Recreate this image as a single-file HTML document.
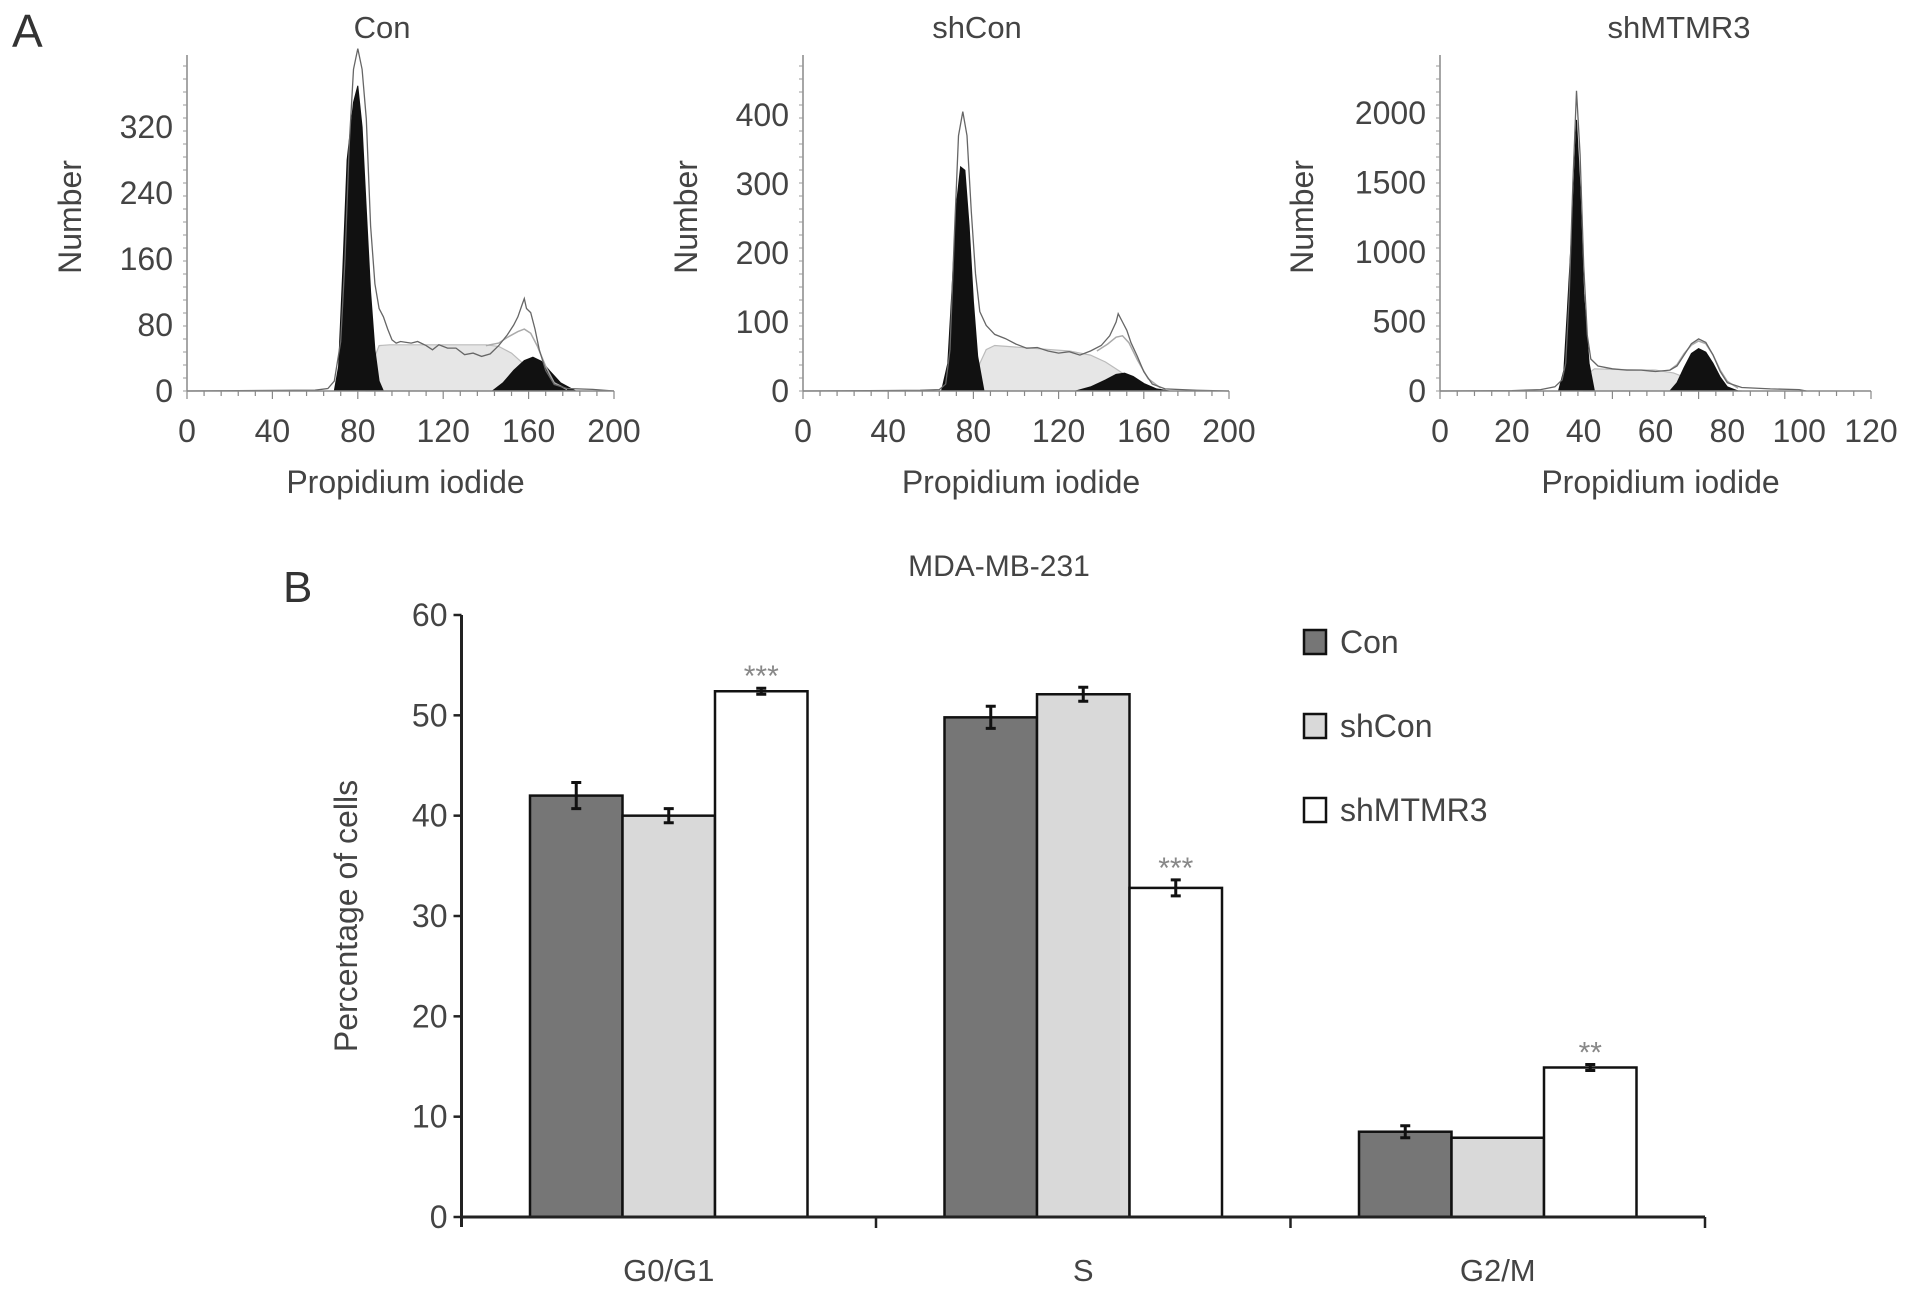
<!DOCTYPE html>
<html><head><meta charset="utf-8">
<style>
html,body{margin:0;padding:0;background:#fff;}
svg{display:block;font-family:"Liberation Sans",Arial,sans-serif;}
</style></head>
<body>
<svg id="fig" width="1913" height="1294" viewBox="0 0 1913 1294" xmlns="http://www.w3.org/2000/svg">
<text x="12" y="47" font-size="46" fill="#333">A</text>
<text x="283" y="602" font-size="44" fill="#333">B</text>
<g id="hist"></g>
<g id="bars"></g>
</svg>
<script>
// ---------- Histogram data (panel A) ----------
const h1Outline = [[0,0],[60,1],[66,3],[69,12],[72,60],[74,160],[76,300],[78,390],[80,415],[82,390],[84,330],[86,200],[88,130],[90,100],[92,90],[94,75],[96,62],[98,58],[100,60],[105,58],[108,60],[112,55],[115,50],[118,56],[122,52],[126,52],[130,44],[134,46],[138,42],[142,45],[146,55],[150,68],[153,80],[155,90],[157,105],[158,112],[159,100],[161,95],[163,75],[165,50],[168,25],[172,8],[178,3],[190,2],[200,0]];
const h1Fit = [[140,55],[146,58],[150,65],[155,72],[158,75],[161,70],[164,55],[168,30],[172,10],[178,2]];
const h1G1 = [[69,0],[71,30],[73,150],[75,280],[78,350],[80,370],[82,320],[84,220],[86,120],[88,50],[90,12],[92,0]];
const h1S = [[84,0],[87,35],[90,55],[95,56],[140,56],[146,54],[152,46],[158,32],[164,17],[170,6],[176,0]];
const h1G2 = [[143,0],[148,10],[153,25],[158,37],[162,41],[166,36],[170,24],[175,10],[182,0]];

const h2Outline = [[0,0],[55,1],[64,2],[67,10],[69,60],[71,220],[73,370],[75,405],[77,370],[79,260],[81,170],[83,115],[86,95],[90,82],[95,76],[100,68],[105,62],[110,63],[115,58],[120,55],[125,57],[130,52],[135,58],[140,66],[144,80],[147,100],[148,112],[150,100],[152,88],[154,70],[157,50],[160,28],[164,10],[170,3],[185,1],[200,0]];
const h2Fit = [[138,58],[143,68],[147,78],[150,80],[153,70],[157,45],[162,18],[168,4]];
const h2G1 = [[65,0],[68,40],[70,150],[72,270],[74,325],[76,320],[78,240],[80,130],[82,50],[85,0]];
const h2S = [[80,0],[83,40],[86,60],[90,66],[125,58],[135,52],[142,42],[148,30],[155,15],[162,5],[168,0]];
const h2G2 = [[128,0],[135,6],[142,16],[147,24],[151,26],[155,21],[160,11],[166,3],[172,0]];

const h3Outline = [[0,0],[20,3],[28,10],[32,30],[34,80],[35,200],[36,700],[37,1500],[38,2160],[39,1700],[40,900],[41,400],[42,230],[44,180],[48,160],[52,150],[56,150],[60,140],[64,150],[66,180],[68,260],[70,340],[72,375],[74,350],[76,260],[78,140],[80,60],[84,25],[92,15],[100,10],[102,0]];
const h3Fit = [[64,150],[66,190],[68,270],[70,330],[72,360],[74,340],[76,260],[78,150],[80,70],[83,20]];
const h3G1 = [[33,0],[34.5,150],[35.5,600],[37,1300],[38,1950],[39,1450],[40,700],[41.5,200],[43,0]];
const h3S = [[40,0],[41,120],[43,160],[50,155],[60,150],[65,130],[69,90],[73,50],[77,20],[81,5],[84,0]];
const h3G2 = [[64,0],[66,60],[68,170],[70,270],[72,305],[74,280],[76,200],[78,100],[80,30],[83,0]];

const h1XTicks = [0,40,80,120,160,200];
const h1YTicks = [0,80,160,240,320];
const h2XTicks = [0,40,80,120,160,200];
const h2YTicks = [0,100,200,300,400];
const h3XTicks = [0,20,40,60,80,100,120];
const h3YTicks = [0,500,1000,1500,2000];
const histTitles = ["Con","shCon","shMTMR3"];

// ---------- Bar chart data (panel B) ----------
const phases = ["G0/G1","S","G2/M"];
const seriesNames = ["Con","shCon","shMTMR3"];
const conVals = [42.0,49.8,8.5];
const shConVals = [40.0,52.1,7.9];
const shMTMR3Vals = [52.4,32.8,14.9];
const conErr = [1.3,1.1,0.6];
const shConErr = [0.7,0.7,0.0];
const shMTMR3Err = [0.3,0.8,0.3];
const sigMarks = ["***","***","**"];
const barYTicks = [0,10,20,30,40,50,60];

const NS = "http://www.w3.org/2000/svg";
function mk(tag, attrs, parent, txt){
  const e = document.createElementNS(NS, tag);
  for (const k in attrs) e.setAttribute(k, attrs[k]);
  if (txt !== undefined) e.textContent = txt;
  parent.appendChild(e);
  return e;
}

function drawHist(g, cfg, outline, fit, g1, s, g2, xt, yt, title){
  const sx = v => cfg.x0 + (v - cfg.xmin) / (cfg.xmax - cfg.xmin) * (cfg.x1 - cfg.x0);
  const sy = v => cfg.y0 - v / cfg.ymax * (cfg.y0 - cfg.yTop);
  const pts = arr => arr.map(p => sx(p[0]).toFixed(1) + "," + sy(p[1]).toFixed(1)).join(" ");
  let e;
  e = mk("polygon", {points: pts(s), fill: "#e6e6e6", stroke: "#bbb", "stroke-width": 1.2}, g);
  
  
  e = mk("polygon", {points: pts(g1), fill: "#111", stroke: "#111", "stroke-width": 1}, g);
  
  
  e = mk("polygon", {points: pts(g2), fill: "#111", stroke: "#111", "stroke-width": 1}, g);
  
  
  e = mk("polyline", {points: pts(fit), fill: "none", stroke: "#aaa", "stroke-width": 1.5}, g);
  
  
  e = mk("polyline", {points: pts(outline), fill: "none", stroke: "#666", "stroke-width": 1.3}, g);
  
  
  e = mk("line", {x1: cfg.x0, y1: cfg.y0, x2: cfg.x1, y2: cfg.y0, stroke: "#888", "stroke-width": 1.5}, g);
  
  
  e = mk("line", {x1: cfg.x0, y1: cfg.y0, x2: cfg.x0, y2: cfg.axTop, stroke: "#888", "stroke-width": 1.5}, g);
  
  
  const nx = 25;
  for (let i = 0; i <= nx; i++){
    const x = cfg.x0 + i * (cfg.x1 - cfg.x0) / nx;
    mk("line", {x1: x, y1: cfg.y0, x2: x, y2: cfg.y0 + (i % 5 === 0 ? 8 : 5), stroke: "#888", "stroke-width": 1.2}, g);
  }
  for (let y = cfg.y0; y >= cfg.axTop; y -= 13){
    mk("line", {x1: cfg.x0 - 4, y1: y, x2: cfg.x0, y2: y, stroke: "#999", "stroke-width": 1}, g);
  }
  xt.forEach(v => {
    e = mk("text", {x: sx(v), y: cfg.y0 + 51, "font-size": 32, fill: "#444", "text-anchor": "middle"}, g, String(v));
    
    
  });
  yt.forEach(v => {
    e = mk("text", {x: cfg.x0 - 14, y: sy(v) + 11, "font-size": 32, fill: "#444", "text-anchor": "end"}, g, String(v));
    
    
  });
  e = mk("text", {x: cfg.titleX, y: 38, "font-size": 31, fill: "#444", "text-anchor": "middle"}, g, title);
  
  
  e = mk("text", {x: (cfg.x0 + cfg.x1) / 2 + 5, y: 493, "font-size": 32, fill: "#444", "text-anchor": "middle"}, g, "Propidium iodide");
  
  
  e = mk("text", {x: cfg.numX, y: 217, "font-size": 32, fill: "#444", "text-anchor": "middle", transform: "rotate(-90 " + cfg.numX + " 217)"}, g, "Number");
  
  
}

const hg = document.getElementById("hist");
drawHist(hg, {id:"con-hist", x0:187, x1:614, xmin:0, xmax:200, y0:391, yTop:127, ymax:320, axTop:55, titleX:382, numX:81}, h1Outline, h1Fit, h1G1, h1S, h1G2, h1XTicks, h1YTicks, histTitles[0]);
drawHist(hg, {id:"shcon-hist", x0:803, x1:1229, xmin:0, xmax:200, y0:391, yTop:115, ymax:400, axTop:55, titleX:977, numX:697}, h2Outline, h2Fit, h2G1, h2S, h2G2, h2XTicks, h2YTicks, histTitles[1]);
drawHist(hg, {id:"shmtmr3-hist", x0:1440, x1:1871, xmin:0, xmax:120, y0:391, yTop:113, ymax:2000, axTop:55, titleX:1679, numX:1313}, h3Outline, h3Fit, h3G1, h3S, h3G2, h3XTicks, h3YTicks, histTitles[2]);

// ---------- Bar chart ----------
const bg = document.getElementById("bars");
const X0 = 461.5, X1 = 1705, Y0 = 1217, Ytop = 615, YMAX = 60;
const sy = v => Y0 - v / YMAX * (Y0 - Ytop);
const catW = (X1 - X0) / phases.length;
const barW = 92.5;
const fills = ["#767676", "#d9d9d9", "#ffffff"];
const vals = [conVals, shConVals, shMTMR3Vals];
const errs = [conErr, shConErr, shMTMR3Err];
let e;
phases.forEach((ph, i) => {
  const cx = X0 + (i + 0.5) * catW;
  vals.forEach((arr, j) => {
    const x = cx + (j - 1.5) * barW;
    const v = arr[i];
    e = mk("rect", {x: x, y: sy(v), width: barW, height: Y0 - sy(v), fill: fills[j], stroke: "#111", "stroke-width": 2.5}, bg);
    
    
    const er = errs[j][i];
    if (er > 0){
      const mx = x + barW / 2;
      e = mk("path", {d: "M" + mx + "," + sy(v + er) + "V" + sy(v - er) + "M" + (mx - 5) + "," + sy(v + er) + "H" + (mx + 5) + "M" + (mx - 5) + "," + sy(v - er) + "H" + (mx + 5), stroke: "#111", "stroke-width": 3, fill: "none"}, bg);
      
      
    }
    if (j === 2){
      e = mk("text", {x: x + barW / 2, y: sy(v + errs[j][i]) - 2, "font-size": 30, fill: "#888", "text-anchor": "middle"}, bg, sigMarks[i]);
      
      
    }
  });
  e = mk("text", {x: cx, y: 1281, "font-size": 31, fill: "#444", "text-anchor": "middle"}, bg, ph);
  
  
});
e = mk("line", {x1: X0, y1: Y0, x2: X1, y2: Y0, stroke: "#222", "stroke-width": 3}, bg);


e = mk("line", {x1: X0, y1: Y0 + 10, x2: X0, y2: Ytop, stroke: "#222", "stroke-width": 3}, bg);


for (let k = 1; k <= phases.length; k++){
  const x = X0 + k * catW;
  mk("line", {x1: x, y1: Y0, x2: x, y2: Y0 + 11, stroke: "#222", "stroke-width": 2.5}, bg);
}
barYTicks.forEach(v => {
  mk("line", {x1: X0 - 8, y1: sy(v), x2: X0, y2: sy(v), stroke: "#222", "stroke-width": 2.5}, bg);
  e = mk("text", {x: X0 - 14, y: sy(v) + 11, "font-size": 32, fill: "#444", "text-anchor": "end"}, bg, String(v));
  
  
});
e = mk("text", {x: 999, y: 576, "font-size": 30, fill: "#444", "text-anchor": "middle"}, bg, "MDA-MB-231");


e = mk("text", {x: 357, y: 916, "font-size": 32, fill: "#444", "text-anchor": "middle", transform: "rotate(-90 357 916)"}, bg, "Percentage of cells");


seriesNames.forEach((n, j) => {
  const cy = 641 + j * 84;
  e = mk("rect", {x: 1304, y: cy - 11, width: 22, height: 24, fill: fills[j], stroke: "#111", "stroke-width": 2.5}, bg);
  
  
  e = mk("text", {x: 1340, y: cy + 12, "font-size": 32, fill: "#444"}, bg, n);
  
  
});
</script>
</body></html>
